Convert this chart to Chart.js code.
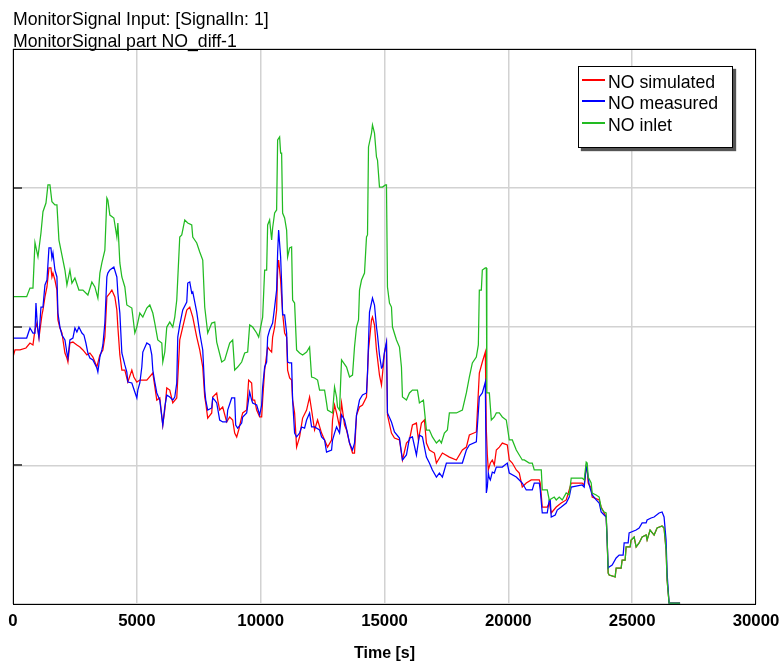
<!DOCTYPE html>
<html><head><meta charset="utf-8">
<script src="https://cdn.jsdelivr.net/npm/chart.js@4/dist/chart.umd.min.js"></script>
<style>
html,body{margin:0;padding:0;background:#fff;}
#wrap{position:relative;width:781px;height:663px;overflow:hidden;}
#c{position:absolute;left:0;top:0;}
.title{position:absolute;left:13px;top:9px;font:17.7px "Liberation Sans",Arial,sans-serif;color:#000;white-space:nowrap;line-height:21.5px;}
#legend{position:absolute;left:578px;top:66px;width:153px;height:80px;border:1px solid #000;background:#fff;box-shadow:3px 3px 1px #555;font:17.7px "Liberation Sans",Arial,sans-serif;color:#000;}
.row{position:absolute;left:0;height:22px;line-height:22px;width:150px;}
.sw{position:absolute;left:3px;width:23px;height:0;top:8px;border-top:2px solid;}
.lt{position:absolute;left:29px;top:0;white-space:nowrap;}
</style></head>
<body>
<div id="wrap">
<canvas id="c" width="781" height="663"></canvas>
<div class="title">MonitorSignal Input: [SignalIn: 1]<br>MonitorSignal part NO_diff-1</div>
<div id="legend"></div>
</div>
<script>
const xTicks = [0,5000,10000,15000,20000,25000,30000];
const seriesNames = ['NO simulated','NO measured','NO inlet'];
const seriesColors = ['#ff0000','#0000ff','#22bb22'];

// [time s, value]
const noInlet = [[0,221.5],[552,221.5],[685,227.7],[806,227.7],[887,260.4],[1008,250.3],[1129,267.4],[1210,282.7],[1331,289.0],[1411,302.0],[1492,302.0],[1572,289.9],[1693,287.6],[1774,287.6],[1855,262.3],[1976,251.5],[2097,240.7],[2177,229.9],[2298,240.7],[2379,231.3],[2500,234.9],[2661,226.3],[2822,226.3],[3024,222.7],[3185,232.1],[3306,228.5],[3427,220.5],[3508,238.5],[3588,245.8],[3709,255.1],[3790,292.6],[3830,291],[3911,280.3],[4072,278.2],[4193,264.5],[4234,274.6],[4314,245.8],[4395,235.7],[4516,228.5],[4596,215.5],[4798,213.3],[4919,195.3],[5000,199.6],[5121,209.7],[5242,206.8],[5403,213.3],[5524,215.5],[5645,209.7],[5725,202.5],[5846,190.3],[6008,188.1],[6048,174.4],[6129,181.6],[6209,199.6],[6330,203.2],[6451,199.6],[6532,206.8],[6612,219.1],[6733,264.5],[6814,266],[6935,276.8],[7056,274.6],[7217,273.2],[7258,264.5],[7419,260.2],[7540,253.7],[7661,247.9],[7741,214.0],[7862,195.3],[8024,202.5],[8145,203.2],[8225,188.8],[8427,174.4],[8548,175.9],[8749,188.1],[8870,190.3],[8951,168.6],[9072,170.8],[9233,174.4],[9354,180.9],[9475,181.6],[9556,201.1],[9677,199.6],[9838,195.3],[9919,192.4],[10040,203.2],[10080,206.8],[10161,240.7],[10241,240.7],[10282,273.2],[10362,276.8],[10443,262.3],[10483,271.0],[10564,281.8],[10644,284.0],[10685,334.4],[10765,336.6],[10806,325.0],[10846,325.0],[10886,281.8],[10967,278.2],[11048,269.5],[11088,250.1],[11169,256.6],[11249,257.3],[11290,219.1],[11370,216.9],[11451,183.1],[11572,180.9],[11693,179.5],[11854,181.6],[11975,185.2],[12056,163.6],[12176,162.9],[12298,161.4],[12378,154.2],[12580,154.2],[12660,144.9],[12701,139.8],[12902,137.7],[12983,156.4],[13064,149.2],[13104,142.0],[13185,139.8],[13265,175.9],[13467,170.8],[13588,163.6],[13709,165.0],[13789,185.2],[13870,199.6],[13951,204.7],[13991,226.3],[14072,233.5],[14193,238.5],[14273,264.5],[14314,266.0],[14354,329.4],[14475,339.4],[14515,345.2],[14596,339.4],[14676,322.2],[14717,320.0],[14797,300.5],[14918,300.5],[15039,302.0],[15080,302.0],[15120,228.5],[15201,216.9],[15281,214.0],[15322,199.6],[15483,190.3],[15604,185.2],[15684,170.8],[15725,149.2],[15886,147.0],[16007,152.1],[16128,154.2],[16330,154.2],[16410,144.9],[16572,147.0],[16692,125.4],[16813,125.4],[16934,120.4],[17096,116.0],[17217,118.2],[17297,116.0],[17418,123.2],[17539,125.4],[17620,137.7],[17902,137.7],[18144,139.8],[18305,152.1],[18426,163.6],[18547,173.7],[18708,178.0],[18789,186.7],[18829,226.3],[18910,226.3],[18950,240.7],[19071,242.2],[19112,242.2],[19132,152.1],[19233,152.1],[19313,132.6],[19434,134.8],[19515,137.7],[19636,137.7],[19757,134.8],[19918,132.6],[20039,118.2],[20160,118.2],[20321,111.0],[20563,103.8],[20644,103.8],[20845,101.6],[20966,101.6],[21047,96.6],[21330,96.6],[21370,82.2],[21571,82.2],[21652,75.0],[21853,77.1],[21934,75.0],[22055,77.1],[22176,75.0],[22337,80.0],[22458,78.6],[22539,90.8],[22982,90.8],[23063,89.4],[23144,102.3],[23184,101.6],[23224,91.5],[23345,87.2],[23386,80.0],[23547,78.6],[23668,77.1],[23748,69.2],[23869,66.3],[23950,65.6],[23990,46.1],[24031,22.3],[24071,20.9],[24313,19.5],[24353,25.9],[24555,25.9],[24595,31.7],[24716,31.7],[24756,41.1],[24918,41.1],[24958,46.1],[25079,48.3],[25160,41.1],[25281,44.0],[25402,48.3],[25563,49.7],[25603,46.1],[25724,53.3],[25885,49.7],[26006,54.8],[26208,56.2],[26288,54.8],[26369,38.9],[26410,17.3],[26490,0.7],[26934,0.7]];

const noMeasured = [[0,191.7],[552,191.7],[685,198.9],[806,195.3],[887,195.3],[927,216.9],[988,199.6],[1048,192.4],[1129,214.0],[1210,214.0],[1290,229.9],[1371,233.5],[1452,256.6],[1532,256.6],[1572,249.4],[1613,253.0],[1693,240.7],[1774,235.7],[1814,209.7],[1895,199.6],[1976,193.9],[2097,190.3],[2177,180.9],[2218,177.3],[2298,190.3],[2419,191.7],[2500,198.9],[2580,196.0],[2661,199.6],[2782,195.3],[2863,193.9],[2943,188.1],[3024,180.9],[3105,177.3],[3226,175.9],[3387,170.1],[3427,167.2],[3508,178.0],[3588,183.1],[3629,186.7],[3709,202.5],[3790,235.7],[3830,238.5],[3911,240.7],[4072,242.9],[4193,235.7],[4234,224.1],[4314,209.7],[4395,180.9],[4516,172.3],[4596,167.2],[4637,160.0],[4798,159.3],[4919,152.8],[5000,148.5],[5040,154.2],[5121,159.3],[5201,170.8],[5242,181.6],[5403,188.1],[5524,186.7],[5604,179.5],[5645,168.6],[5725,160.0],[5806,152.1],[5927,147.0],[6008,134.8],[6048,129.0],[6129,142.0],[6209,150.6],[6330,149.2],[6451,147.0],[6532,149.2],[6612,159.3],[6653,192.4],[6733,201.1],[6854,211.9],[7016,217.6],[7056,231.3],[7137,232.1],[7217,224.1],[7258,224.9],[7419,210.4],[7540,195.3],[7661,183.1],[7741,154.2],[7782,147.0],[7862,139.8],[8024,141.3],[8064,148.5],[8145,147.0],[8225,144.9],[8346,132.6],[8467,131.2],[8628,131.2],[8669,139.8],[8830,148.5],[8951,148.5],[8991,129.0],[9072,126.8],[9233,130.4],[9274,134.8],[9435,137.7],[9556,152.8],[9636,147.0],[9677,144.9],[9838,143.4],[9959,136.2],[10040,143.4],[10080,156.4],[10161,170.8],[10241,174.4],[10282,192.4],[10362,197.5],[10483,202.5],[10564,214.0],[10644,226.3],[10685,253.0],[10725,269.5],[10806,250.1],[10846,231.3],[10886,208.3],[10967,208.3],[11048,195.3],[11088,174.4],[11169,173.7],[11249,173.7],[11290,147.0],[11370,123.2],[11451,120.4],[11572,123.2],[11652,127.6],[11773,126.8],[11854,132.6],[11975,137.7],[12056,127.6],[12176,127.6],[12378,125.4],[12459,120.4],[12580,118.2],[12660,109.5],[12862,111.0],[12902,118.2],[12983,123.2],[13064,127.6],[13185,123.2],[13265,136.2],[13386,132.6],[13507,123.2],[13588,116.0],[13709,111.0],[13789,116.0],[13870,136.2],[13991,147.0],[14112,150.6],[14273,152.1],[14314,166.5],[14394,210.4],[14515,220.5],[14596,215.5],[14676,199.6],[14717,193.9],[14797,179.5],[14878,170.1],[14918,170.8],[14999,181.6],[15080,188.8],[15120,137.7],[15281,131.2],[15402,124.0],[15604,119.6],[15725,103.8],[15886,107.4],[16007,119.6],[16128,120.4],[16289,107.4],[16410,121.8],[16531,120.4],[16692,105.9],[16813,101.6],[16934,96.6],[17096,91.5],[17217,94.4],[17338,91.5],[17499,101.6],[18144,101.6],[18305,111.0],[18426,114.6],[18708,116.8],[18829,149.2],[18950,152.1],[19071,160.0],[19112,80.0],[19152,84.3],[19192,94.4],[19233,90.8],[19273,89.4],[19354,95.1],[19434,94.4],[19515,98.7],[19757,98.7],[19958,101.6],[20039,94.4],[20321,91.5],[20442,89.4],[20563,87.2],[20724,82.2],[20966,82.2],[21047,87.2],[21249,87.2],[21289,82.2],[21370,65.6],[21571,65.6],[21652,75.0],[21692,75.0],[21733,62.7],[21893,64.1],[21974,67.7],[22136,69.9],[22337,72.8],[22458,77.1],[22539,84.3],[22982,85.8],[23063,84.3],[23144,98.7],[23184,96.6],[23264,85.8],[23386,78.6],[23547,75.0],[23668,72.8],[23748,66.3],[23869,64.1],[23950,62.7],[23990,46.1],[24031,25.9],[24071,26.7],[24192,28.1],[24353,33.2],[24474,35.3],[24635,35.3],[24676,44.0],[24837,44.0],[24877,51.2],[25160,53.3],[25281,54.8],[25402,58.4],[25563,58.4],[25603,60.5],[25764,62.0],[25885,62.7],[26087,65.6],[26208,66.3],[26288,62.7],[26369,46.1],[26410,22.3],[26490,0.7],[26934,0.7]];

const noSimulated = [[0,178.0],[81,183.1],[282,183.1],[524,184.5],[685,188.1],[806,186.7],[887,197.5],[968,202.5],[1048,191.7],[1169,208.3],[1210,211.9],[1290,221.3],[1371,228.5],[1452,242.2],[1532,242.2],[1572,235.7],[1613,238.5],[1693,233.5],[1774,226.3],[1814,204.7],[1895,198.9],[1976,195.3],[2097,180.9],[2177,177.3],[2218,174.4],[2298,188.1],[2419,188.8],[2580,186.7],[2701,185.2],[2822,183.1],[2984,179.5],[3105,180.9],[3226,178.0],[3387,170.8],[3508,179.5],[3629,183.1],[3709,192.4],[3790,221.3],[3911,224.1],[3992,226.3],[4113,221.3],[4193,211.9],[4234,199.6],[4314,179.5],[4395,168.6],[4516,168.6],[4637,160.0],[4798,168.6],[4879,163.6],[5000,160.0],[5121,161.4],[5403,161.4],[5645,166.5],[5806,147.0],[5927,148.5],[6048,129.0],[6129,139.8],[6209,155.7],[6330,154.2],[6451,144.9],[6612,148.5],[6733,190.3],[6854,199.6],[7016,211.9],[7137,214.0],[7258,206.8],[7419,192.4],[7540,183.1],[7661,170.8],[7741,149.2],[7782,144.9],[7862,134.0],[8024,137.7],[8064,149.2],[8225,152.1],[8266,147.0],[8346,139.8],[8467,142.0],[8628,131.2],[8749,134.8],[8870,132.6],[8951,123.2],[9032,120.4],[9112,125.4],[9233,134.8],[9274,137.7],[9435,139.8],[9515,161.4],[9636,159.3],[9677,147.0],[9757,147.0],[9838,139.8],[9959,134.8],[10040,134.8],[10080,147.0],[10161,168.6],[10282,185.2],[10362,183.1],[10443,181.6],[10483,192.4],[10564,199.6],[10644,211.9],[10685,240.7],[10725,247.9],[10806,233.5],[10846,221.3],[10886,209.7],[10967,195.3],[11048,192.4],[11088,168.6],[11169,162.9],[11249,161.4],[11290,147.0],[11370,137.7],[11451,113.1],[11572,120.4],[11693,134.0],[11854,139.8],[11975,149.2],[12056,139.8],[12176,125.4],[12298,132.6],[12459,123.2],[12580,118.2],[12701,113.1],[12862,118.2],[12902,132.6],[12983,143.4],[13064,137.7],[13185,127.6],[13265,144.9],[13386,129.0],[13467,125.4],[13588,116.0],[13709,108.8],[13789,108.8],[13870,136.2],[13991,142.0],[14112,143.4],[14273,149.2],[14354,183.1],[14475,204.7],[14515,206.8],[14596,201.1],[14676,183.1],[14797,165.0],[14878,157.8],[14999,180.9],[15080,188.1],[15120,136.2],[15281,123.2],[15402,119.6],[15604,118.2],[15725,103.8],[15886,116.0],[16007,118.2],[16128,129.0],[16289,130.4],[16370,118.2],[16491,130.4],[16612,132.6],[16692,116.0],[16813,111.0],[17015,108.8],[17096,101.6],[17338,108.8],[17620,105.9],[17902,103.8],[18144,111.0],[18305,113.1],[18426,121.8],[18708,124.0],[18829,166.5],[18950,174.4],[19071,181.6],[19112,125.4],[19152,107.4],[19192,96.6],[19273,101.6],[19354,103.8],[19434,100.2],[19515,111.0],[19636,113.1],[19757,116.0],[19958,114.6],[20039,103.8],[20160,101.6],[20321,96.6],[20442,94.4],[20563,84.3],[20724,87.2],[20926,89.4],[21249,89.4],[21289,87.2],[21370,69.9],[21571,69.9],[21652,72.8],[21733,65.6],[21934,69.9],[22136,72.8],[22337,75.0],[22458,82.2],[22539,87.2],[22982,87.2],[23063,85.8],[23144,98.7],[23184,96.6],[23224,87.2],[23345,83.6],[23386,77.1],[23668,75.0],[23748,69.9],[23869,65.6],[23950,62.7],[23990,46.1],[24031,22.3],[24071,20.9],[24313,19.5],[24353,25.9],[24555,25.9],[24595,31.7],[24716,31.7],[24756,41.1],[24918,41.1],[24958,46.1],[25079,48.3],[25160,41.1],[25281,44.0],[25402,48.3],[25563,49.7],[25603,46.1],[25724,53.3],[25885,49.7],[26006,54.8],[26208,56.2],[26288,54.8],[26369,38.9],[26410,17.3],[26490,0.7],[26934,0.7]];

const yGridValues = [100,200,300];

// legend (HTML)
const leg = document.getElementById('legend');
const rowTops = [4, 25, 47];
seriesNames.forEach((n,i)=>{
  const r = document.createElement('div'); r.className='row'; r.style.top = rowTops[i]+'px';
  const s = document.createElement('div'); s.className='sw'; s.style.borderTopColor = seriesColors[i];
  const t = document.createElement('div'); t.className='lt'; t.textContent = n;
  r.appendChild(s); r.appendChild(t); leg.appendChild(r);
});

const toXY = arr => arr.map(p => ({x:p[0], y:p[1]}));

const framePlugin = {
  id:'frame',
  afterDraw(chart){
    const {ctx, chartArea:a, scales} = chart;
    ctx.save();
    ctx.strokeStyle = '#555'; ctx.lineWidth = 2;
    yGridValues.forEach(v=>{
      const y = Math.round(scales.y.getPixelForValue(v));
      ctx.beginPath(); ctx.moveTo(a.left, y); ctx.lineTo(a.left+9, y); ctx.stroke();
    });
    ctx.strokeStyle = '#000'; ctx.lineWidth = 1;
    ctx.strokeRect(Math.round(a.left)+0.5, Math.round(a.top)+0.5, Math.round(a.right-a.left)-1, Math.round(a.bottom-a.top));
    ctx.restore();
  }
};

const font = {family:'"Liberation Sans", Arial, sans-serif', size:16.8, weight:'bold'};
const titleFont = {family:'"Liberation Sans", Arial, sans-serif', size:16, weight:'bold'};

new Chart(document.getElementById('c'), {
  type:'line',
  data:{datasets:[
    {label:seriesNames[2], data:toXY(noInlet), borderColor:seriesColors[2]},
    {label:seriesNames[1], data:toXY(noMeasured), borderColor:seriesColors[1]},
    {label:seriesNames[0], data:toXY(noSimulated), borderColor:seriesColors[0]}
  ]},
  options:{
    responsive:false, animation:false, events:[],
    layout:{padding:{left:13, right:25, top:49, bottom:0}},
    plugins:{legend:{display:false}, tooltip:{enabled:false}, title:{display:false}},
    elements:{point:{radius:0}, line:{borderWidth:1.25, tension:0, fill:false}},
    scales:{
      x:{type:'linear', min:0, max:30000,
         afterBuildTicks(s){ s.ticks = xTicks.map(v=>({value:v})); },
         ticks:{color:'#000', font, padding:7, maxRotation:0, autoSkip:false, callback:v=>String(v)},
         grid:{color:'#d2d2d2', lineWidth:1.5, drawTicks:false},
         border:{display:false},
         title:{display:true, text:'Time [s]', color:'#000', font:titleFont, padding:{top:0,bottom:0}},
         afterFit(s){ s.height = 59; s.paddingLeft = 0; s.paddingRight = 0; }},
      y:{type:'linear', min:0, max:400,
         ticks:{stepSize:100, display:false},
         grid:{color:'#d2d2d2', lineWidth:1.5, drawTicks:false},
         border:{display:false},
         afterFit(s){ s.width = 0; s.paddingTop = 0; s.paddingBottom = 0; }}
    }
  },
  plugins:[framePlugin]
});
</script>
</body></html>
